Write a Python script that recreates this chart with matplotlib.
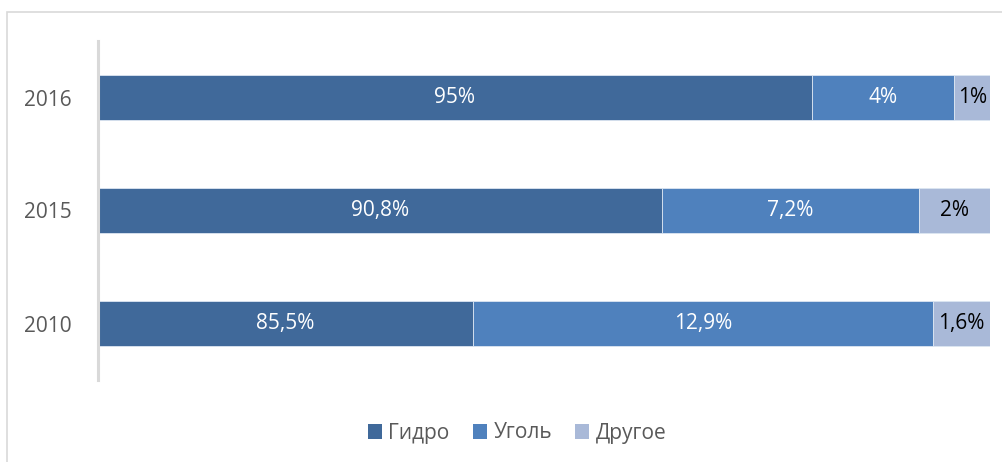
import matplotlib
matplotlib.use("Agg")
import matplotlib.pyplot as plt
from matplotlib.patches import Rectangle, Patch

years = ["2010", "2015", "2016"]
hydro = [85.5, 90.8, 95]
coal = [12.9, 7.2, 4]
other = [1.6, 2, 1]
hydro_lbl = ["85,5%", "90,8%", "95%"]
coal_lbl = ["12,9%", "7,2%", "4%"]
other_lbl = ["1,6%", "2%", "1%"]
series_names = ["Гидро", "Уголь", "Другое"]

colors = ["#40699a", "#4f81bd", "#a9b9d8"]
txt_colors = ["white", "white", "black"]
xmin, xmax = 75, 100

plt.rcParams["font.family"] = ["Open Sans", "DejaVu Sans"]

fig = plt.figure(figsize=(10.03, 4.62), dpi=100)
ax = fig.add_axes([98 / 1003, 1 - 380 / 462, 892 / 1003, 339 / 462])

# light frame, only top and left edge visible in the crop
fig.patches.append(Rectangle((7.5 / 1003, -0.1), 1.2, 1 - 11.5 / 462 + 0.1,
                             transform=fig.transFigure, fill=False,
                             edgecolor="#d9d9d9", linewidth=1.2))

ypos = list(range(len(years)))
left = [0] * len(years)
for vals, lbls, col, tc, name in zip([hydro, coal, other],
                                     [hydro_lbl, coal_lbl, other_lbl],
                                     colors, txt_colors, series_names):
    ax.barh(ypos, vals, left=left, height=0.405, color=col,
            edgecolor="#dce6f2", linewidth=0.6, label=name)
    for y, v, l, lb in zip(ypos, vals, left, lbls):
        a = max(l, xmin)
        b = min(l + v, xmax)
        ax.text((a + b) / 2, y, lb, ha="center", va="center",
                color=tc, fontsize=15)
    left = [l + v for l, v in zip(left, vals)]

ax.set_xlim(xmin, xmax)
ax.set_ylim(-0.5, 2.5)
ax.set_yticks(ypos)
ax.set_yticklabels(years, fontsize=15, color="#595959")
ax.tick_params(axis="y", length=0, pad=19)
ax.set_xticks([])
for s in ["top", "right", "bottom"]:
    ax.spines[s].set_visible(False)
ax.spines["left"].set_color("#d9d9d9")
ax.spines["left"].set_linewidth(2.2)

handles = [Patch(facecolor=c, label=n) for c, n in zip(colors, series_names)]
fig.legend(handles=handles, loc="center", bbox_to_anchor=(517 / 1003, 1 - 433 / 462),
           ncol=3, frameon=False, fontsize=15, labelcolor="#595959",
           handlelength=0.7, handleheight=0.7, handletextpad=0.3,
           columnspacing=1.1)

fig.savefig("out.png", dpi=100)
